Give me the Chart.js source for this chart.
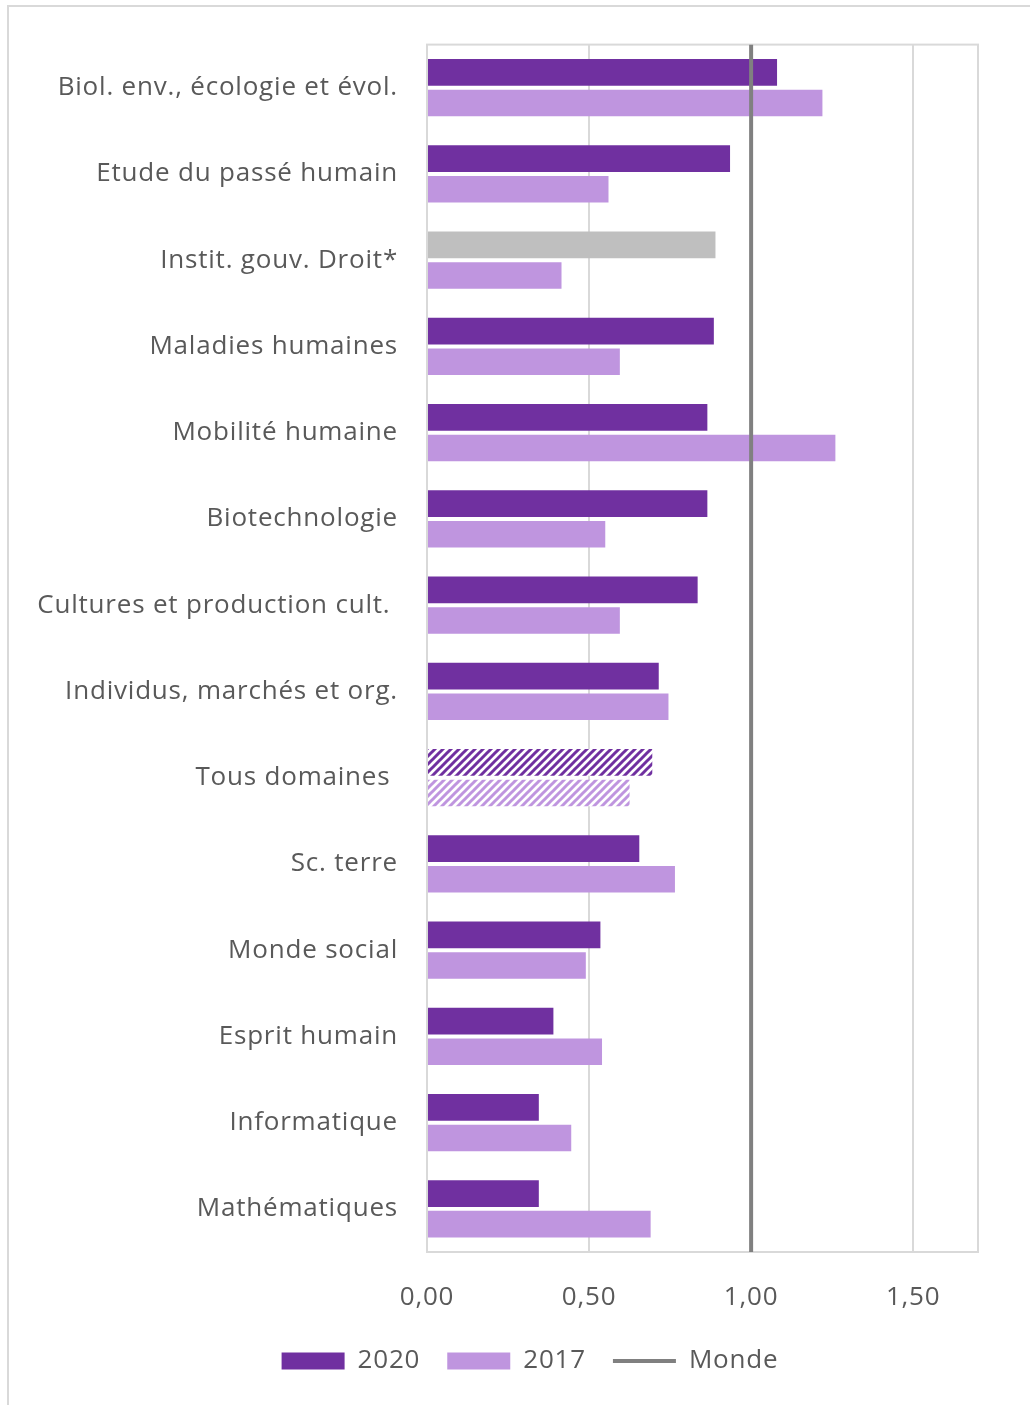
<!DOCTYPE html>
<html>
<head>
<meta charset="utf-8">
<script src="https://cdn.jsdelivr.net/npm/chart.js@4"></script>
<style>
  body { margin: 0; overflow: hidden; background: #fff; }
  #frame { position: absolute; left: 7px; top: 5px; width: 1100px; height: 1500px;
           border-top: 2px solid #d9d9d9; border-left: 2px solid #d9d9d9; }
  #wrap { position: absolute; left: 0; top: 0; width: 1030px; height: 1405px; }
</style>
</head>
<body>
<div id="frame"></div>
<div id="wrap"><canvas id="myChart" width="1030" height="1405"></canvas></div>
<script>
const categories = [
    'Biol. env., écologie et évol.',
    'Etude du passé humain',
    'Instit. gouv. Droit*',
    'Maladies humaines',
    'Mobilité humaine',
    'Biotechnologie',
    'Cultures et production cult. ',
    'Individus, marchés et org.',
    'Tous domaines ',
    'Sc. terre',
    'Monde social',
    'Esprit humain',
    'Informatique',
    'Mathématiques'
];
const values2020 = [1.08, 0.935, 0.89, 0.885, 0.865, 0.865, 0.835, 0.715, 0.695, 0.655, 0.535, 0.39, 0.345, 0.345];
const values2017 = [1.22, 0.56, 0.415, 0.595, 1.26, 0.55, 0.595, 0.745, 0.625, 0.765, 0.49, 0.54, 0.445, 0.69];
const monde = 1.0;
const xTicks = [0, 0.5, 1.0, 1.5];

const PURPLE = '#7030a0';
const LILAC = '#bf95df';
const GREY_BAR = '#bfbfbf';
const LINE = '#808080';
const TEXT = '#595959';
const GRID = '#d9d9d9';

function hatch(color) {
    const c = document.createElement('canvas');
    c.width = 8; c.height = 8;
    const g = c.getContext('2d');
    g.fillStyle = '#fff';
    g.fillRect(0, 0, 8, 8);
    g.strokeStyle = color;
    g.lineWidth = 3;
    g.beginPath();
    g.moveTo(-2, 10); g.lineTo(10, -2);
    g.moveTo(-6, 6); g.lineTo(6, -6);
    g.moveTo(2, 14); g.lineTo(14, 2);
    g.stroke();
    return g.createPattern(c, 'repeat');
}

const totalIdx = categories.findIndex(c => c.trim() === 'Tous domaines');
const droitIdx = categories.findIndex(c => c.startsWith('Instit.'));

const colors2020 = values2020.map((v, i) => i === totalIdx ? hatch(PURPLE) : (i === droitIdx ? GREY_BAR : PURPLE));
const colors2017 = values2017.map((v, i) => i === totalIdx ? hatch(LILAC) : LILAC);

// plot frame, wider letter spacing (closer to the original font) and legend shift
const tweaks = {
    id: 'tweaks',
    beforeUpdate(chart) { chart.ctx.letterSpacing = '0.8px'; },
    afterLayout(chart) {
        chart.legend.left += 31;
        chart.legend.right += 31;
    },
    beforeDraw(chart) { chart.ctx.letterSpacing = '0.8px'; },
    beforeDatasetsDraw(chart) {
        const a = chart.chartArea;
        const ctx = chart.ctx;
        ctx.save();
        ctx.strokeStyle = GRID;
        ctx.lineWidth = 2;
        ctx.strokeRect(a.left, a.top, a.right - a.left, a.bottom - a.top);
        ctx.restore();
    }
};

const font = { family: 'Open Sans', size: 26 };

new Chart(document.getElementById('myChart').getContext('2d'), {
    type: 'bar',
    data: {
        labels: categories,
        datasets: [{
            label: '2020',
            indexAxis: 'y',
            data: values2020,
            backgroundColor: colors2020,
            borderWidth: 0,
            order: 1
        }, {
            label: '2017',
            indexAxis: 'y',
            data: values2017,
            backgroundColor: colors2017,
            borderWidth: 0,
            order: 1
        }, {
            // vertical reference line at x = 1 spanning the full plot height
            type: 'line',
            label: 'Monde',
            data: [{ x: monde, y: 0 }, { x: monde, y: 1 }],
            yAxisID: 'y2',
            borderColor: LINE,
            backgroundColor: LINE,
            borderWidth: 4,
            pointRadius: 0,
            order: 0
        }]
    },
    options: {
        responsive: false,
        devicePixelRatio: 1,
        animation: false,
        datasets: { bar: { categoryPercentage: 0.71, barPercentage: 0.87 } },
        layout: { padding: { left: 20, right: 52, top: 42, bottom: 21 } },
        scales: {
            x: {
                type: 'linear',
                position: 'bottom',
                min: 0,
                max: 1.7,
                offset: false,
                afterBuildTicks: s => { s.ticks = xTicks.map(v => ({ value: v })); },
                ticks: {
                    font: font,
                    color: TEXT,
                    padding: 30,
                    callback: v => v.toFixed(2).replace('.', ',')
                },
                grid: { color: GRID, lineWidth: 2, drawTicks: false, offset: false },
                border: { display: false },
                afterFit: s => { s.height = 69; }
            },
            y: {
                type: 'category',
                position: 'left',
                offset: true,
                ticks: { font: font, color: TEXT, padding: 29 },
                grid: { display: false, drawTicks: false, offset: true },
                border: { display: false },
                afterFit: s => { s.width = 407; }
            },
            y2: {
                type: 'linear',
                axis: 'y',
                min: 0,
                max: 1,
                offset: false,
                display: false
            }
        },
        plugins: {
            legend: {
                position: 'bottom',
                labels: {
                    font: font,
                    color: TEXT,
                    usePointStyle: true,
                    pointStyleWidth: 63,
                    boxHeight: 17,
                    padding: 27,
                    generateLabels: chart => chart.data.datasets.map((d, i) => ({
                        text: d.label,
                        datasetIndex: i,
                        fillStyle: i === 0 ? PURPLE : (i === 1 ? LILAC : LINE),
                        strokeStyle: i === 2 ? LINE : 'rgba(0,0,0,0)',
                        lineWidth: i === 2 ? 4 : 0,
                        pointStyle: i === 2 ? 'line' : 'rect',
                        fontColor: TEXT,
                        hidden: false
                    }))
                }
            },
            tooltip: { enabled: false }
        }
    },
    plugins: [tweaks]
});
</script>
</body>
</html>
